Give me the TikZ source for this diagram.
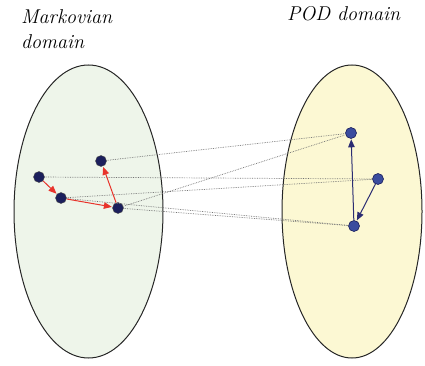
\documentclass[tikz,border=0pt]{standalone}
\usetikzlibrary{arrows.meta}
\definecolor{leftfill}{HTML}{EEF5EA}
\definecolor{rightfill}{HTML}{FCF8D3}
\definecolor{navy}{HTML}{1B1F5C}
\definecolor{podblue}{HTML}{3A4C9E}
\definecolor{arrred}{HTML}{E8332B}
\definecolor{arrblue}{HTML}{2B2C72}
\begin{document}
\begin{tikzpicture}[x=1pt,y=-1pt,
  domainshape/.style={draw=black!85,line width=1pt},
  mnode/.style={circle,fill=navy,draw=black!70,line width=0.4pt,minimum size=11pt,inner sep=0pt},
  pnode/.style={circle,fill=podblue,draw=navy,line width=0.6pt,minimum size=11pt,inner sep=0pt},
  link/.style={densely dotted,draw=black!55,line width=0.7pt},
  redarr/.style={draw=arrred,line width=1pt,-{Triangle[length=8pt,width=6.5pt]},shorten >=0.5pt},
  bluearr/.style={draw=arrblue,line width=1pt,-{Triangle[length=8pt,width=6.5pt]},shorten >=0.5pt},
  titletext/.style={font=\fontsize{20}{25}\selectfont\itshape,inner sep=0pt,align=left}]
\useasboundingbox (0,0) rectangle (425,366);
\path[domainshape,fill=leftfill] (88.5,211.5) ellipse [x radius=74.5,y radius=146.5];
\path[domainshape,fill=rightfill] (352,211.5) ellipse [x radius=70,y radius=146.5];
\node[titletext,anchor=north west] (mt) at (21,9) {Markovian\\domain};
\node[titletext,anchor=base west] (pt) at (287,21) {POD domain};
\node[mnode] (A) at (101,161) {};
\node[mnode] (B) at (39,177) {};
\node[mnode] (C) at (61,198) {};
\node[mnode] (D) at (118,208) {};
\node[pnode] (P) at (351,133) {};
\node[pnode] (Q) at (378,179) {};
\node[pnode] (R) at (354,226) {};
\draw[link] (A) -- (P);
\draw[link] (D) -- (P);
\draw[link] (B) -- (Q);
\draw[link] (C) -- (Q);
\draw[link] (C) -- (R);
\draw[link] (D) -- (R);
\draw[redarr] (B) -- (C);
\draw[redarr] (C) -- (D);
\draw[redarr] (D) -- (A);
\draw[bluearr] (R) -- (P);
\draw[bluearr] (Q) -- (R);
\end{tikzpicture}
\end{document}
